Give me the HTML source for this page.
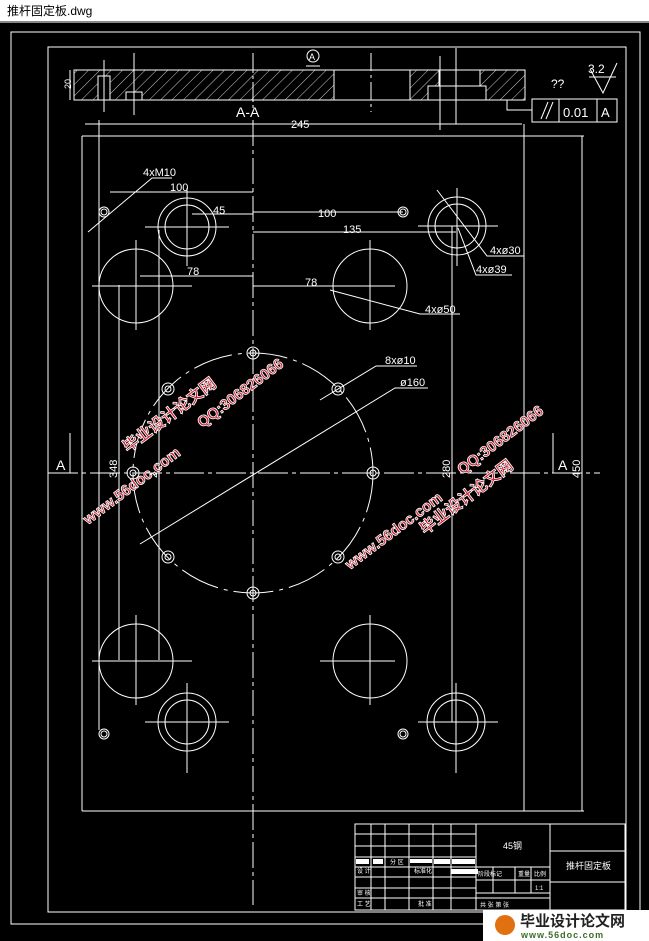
<!DOCTYPE html>
<html><head><meta charset="utf-8"><style>
html,body{margin:0;padding:0;background:#000;}
svg{display:block}
</style></head><body>
<svg width="649" height="941" viewBox="0 0 649 941" xmlns="http://www.w3.org/2000/svg" font-family="'Liberation Sans','Noto Sans CJK SC',sans-serif">
<defs>
<pattern id="h" width="8" height="8" patternUnits="userSpaceOnUse" patternTransform="rotate(45)">
<line x1="0" y1="0" x2="0" y2="8" stroke="#fff" stroke-width="0.8"/>
</pattern>
</defs>
<rect x="0" y="0" width="649" height="941" fill="#000"/>
<rect x="0" y="0" width="649" height="22" fill="#fff"/>
<rect x="0" y="21" width="649" height="2" fill="#888"/>
<text x="7" y="15" font-size="12" fill="#000">推杆固定板.dwg</text>

<g stroke="#fff" stroke-width="1" fill="none">
<!-- frames -->
<rect x="11" y="32" width="629" height="892"/>
<rect x="48" y="47" width="578" height="865"/>
<!-- section view -->
<rect x="74" y="70" width="260" height="30" fill="url(#h)"/>
<rect x="410" y="70" width="115" height="30" fill="url(#h)"/>
<rect x="439" y="70" width="41" height="16" fill="#000"/>
<rect x="428" y="86" width="58" height="14" fill="#000"/>
<line x1="74" y1="70" x2="525" y2="70"/>
<line x1="74" y1="100" x2="525" y2="100"/>
<rect x="98" y="76" width="12" height="24" fill="#000"/>
<rect x="126" y="92" width="16" height="8" fill="#000"/>
<line x1="104" y1="60" x2="104" y2="112"/>
<line x1="134" y1="53" x2="134" y2="115"/>
<line x1="253" y1="53" x2="253" y2="112" stroke-dasharray="20,3,3,3"/>
<line x1="371" y1="53" x2="371" y2="112" stroke-dasharray="18,4,3,4"/>
<line x1="440" y1="56" x2="440" y2="130"/>
<line x1="456" y1="48" x2="456" y2="124"/>
<line x1="70" y1="70" x2="70" y2="100"/>
<!-- tolerance box -->
<rect x="532" y="99" width="85" height="23"/>
<line x1="559" y1="99" x2="559" y2="122"/>
<line x1="597" y1="99" x2="597" y2="122"/>
<polyline points="532,110 507,110 507,100"/>
<line x1="541" y1="119" x2="548" y2="102"/><line x1="546" y1="119" x2="553" y2="102"/>
<polyline points="590,69 603,93 617,63"/>
<line x1="589" y1="77" x2="616" y2="77"/>
<circle cx="313" cy="56" r="6"/>
<line x1="306" y1="66" x2="320" y2="66"/>
<!-- 245 dim -->
<line x1="85" y1="124" x2="522" y2="124"/>
<!-- plate -->
<line x1="82" y1="136" x2="584" y2="136"/>
<line x1="82" y1="136" x2="82" y2="811"/>
<line x1="82" y1="811" x2="584" y2="811"/>
<line x1="524" y1="124" x2="524" y2="811"/>
<line x1="582" y1="136" x2="582" y2="811"/>
<line x1="99" y1="120" x2="99" y2="730"/>
<line x1="119" y1="285" x2="119" y2="660"/>
<line x1="159" y1="230" x2="159" y2="660"/>
<line x1="452" y1="226" x2="452" y2="722"/>
<!-- centerlines -->
<line x1="253" y1="120" x2="253" y2="905" stroke-dasharray="26,4,4,4"/>
<line x1="48" y1="473" x2="600" y2="473" stroke-dasharray="30,4,4,4"/>
<!-- section arrows -->
<line x1="70" y1="473" x2="70" y2="433"/><line x1="553" y1="473" x2="553" y2="433"/>
<!-- dims -->
<line x1="110" y1="192" x2="253" y2="192"/>
<line x1="192" y1="214" x2="253" y2="214"/>
<line x1="140" y1="276" x2="253" y2="276"/>
<line x1="253" y1="212" x2="403" y2="212"/>
<line x1="253" y1="232" x2="456" y2="232"/>
<line x1="253" y1="286" x2="370" y2="286"/>
<!-- large circles -->
<circle cx="136" cy="286" r="37"/><circle cx="370" cy="286" r="37"/>
<circle cx="136" cy="661" r="37"/><circle cx="370" cy="661" r="37"/>
<!-- counterbores -->
<circle cx="187" cy="227" r="29"/><circle cx="187" cy="227" r="22"/>
<circle cx="457" cy="226" r="29"/><circle cx="457" cy="226" r="22"/>
<circle cx="187" cy="722" r="29"/><circle cx="187" cy="722" r="22"/>
<circle cx="456" cy="722" r="29"/><circle cx="456" cy="722" r="22"/>
<!-- M10 -->
<circle cx="104" cy="212" r="5"/><circle cx="104" cy="212" r="3"/>
<circle cx="403" cy="212" r="5"/><circle cx="403" cy="212" r="3"/>
<circle cx="104" cy="734" r="5"/><circle cx="104" cy="734" r="3"/>
<circle cx="403" cy="734" r="5"/><circle cx="403" cy="734" r="3"/>
<!-- PCD -->
<circle cx="253" cy="473" r="120" stroke-dasharray="40,6,4,6"/>
<circle cx="253" cy="353" r="6"/><circle cx="253" cy="353" r="3"/>
<circle cx="253" cy="593" r="6"/><circle cx="253" cy="593" r="3"/>
<circle cx="133" cy="473" r="6"/><circle cx="133" cy="473" r="3"/>
<circle cx="373" cy="473" r="6"/><circle cx="373" cy="473" r="3"/>
<circle cx="168" cy="389" r="6"/><circle cx="168" cy="389" r="3"/>
<circle cx="338" cy="389" r="6"/><circle cx="338" cy="389" r="3"/>
<circle cx="168" cy="557" r="6"/><circle cx="168" cy="557" r="3"/>
<circle cx="338" cy="557" r="6"/><circle cx="338" cy="557" r="3"/>
<!-- leaders -->
<polyline points="88,232 152,178 172,178"/>
<polyline points="320,400 376,366 417,366"/>
<polyline points="140,544 395,388 428,388"/>
<polyline points="437,190 487,256 524,256"/>
<polyline points="458,228 476,275 512,275"/>
<polyline points="330,290 420,314 460,314"/>
<!-- crosshairs -->
<path d="M92 286h100M136 240v90M92 661h100M136 615v90M320 286h75M370 240v90M320 661h75M370 615v90M145 227h84M187 188v78M145 722h84M187 683v90M418 226h80M457 188v78M418 722h80M456 683v90"/>
</g>
<g fill="#fff" font-size="11">
<text x="236" y="117" font-size="14">A-A</text>
<text x="291" y="128">245</text>
<text x="309" y="60" font-size="9">A</text>
<text x="588" y="73" font-size="12">3.2</text>
<text x="551" y="88" font-size="12">??</text>
<text x="563" y="117" font-size="13">0.01</text>
<text x="601" y="117" font-size="13">A</text>
<text x="56" y="470" font-size="14">A</text>
<text x="558" y="470" font-size="14">A</text>
<text x="143" y="176">4xM10</text>
<text x="170" y="191">100</text>
<text x="213" y="214">45</text>
<text x="187" y="275">78</text>
<text x="318" y="217">100</text>
<text x="343" y="233">135</text>
<text x="305" y="286">78</text>
<text x="490" y="254">4xø30</text>
<text x="476" y="273">4xø39</text>
<text x="425" y="313">4xø50</text>
<text x="385" y="364">8xø10</text>
<text x="400" y="386">ø160</text>
<text transform="translate(117,478) rotate(-90)">348</text>
<text transform="translate(157,478) rotate(-90)">2</text>
<text transform="translate(450,478) rotate(-90)">280</text>
<text transform="translate(580,478) rotate(-90)">450</text>
<text x="71" y="89" font-size="9" transform="rotate(-90 71 89)">20</text>
</g>
<!-- watermark -->
<g font-weight="bold" fill="#c42030" stroke="#fff" stroke-width="0.8" font-size="16" font-family="'Liberation Sans','Noto Sans CJK SC',sans-serif">
<text transform="translate(128,453) rotate(-37)">毕业设计论文网</text>
<text transform="translate(88,525) rotate(-37)" font-size="15">www.56doc.com</text>
<text transform="translate(202,428) rotate(-37)" font-size="15">QQ:306826066</text>
<text transform="translate(350,570) rotate(-37)" font-size="15">www.56doc.com</text>
<text transform="translate(462,475) rotate(-37)" font-size="15">QQ:306826066</text>
<text transform="translate(425,535) rotate(-37)">毕业设计论文网</text>
</g>
<!-- title block -->
<g stroke="#fff" stroke-width="1" fill="none">
<rect x="355" y="824" width="270" height="86"/>
<line x1="476" y1="824" x2="476" y2="910"/>
<line x1="550" y1="824" x2="550" y2="910"/>
<line x1="550" y1="851" x2="625" y2="851"/>
<line x1="550" y1="882" x2="625" y2="882"/>
<path d="M355 834h121M355 846h121M355 857h121M355 867h195M355 877h121M355 888h121M355 898h195M476 880h74M476 893h74"/>
<path d="M371 824v43M385 824v43M409 824v43M433 824v43M451 824v43M371 867v43M385 867v43M409 867v43M433 867v43M451 867v43M493 867v26M515 867v26M531 867v26"/>
</g>
<g fill="#fff" font-size="6">
<rect x="356" y="859" width="13" height="5"/><rect x="373" y="859" width="10" height="5"/>
<rect x="410" y="859" width="22" height="4"/><rect x="434" y="859" width="16" height="5"/><rect x="452" y="859" width="23" height="5"/>
<rect x="451" y="869" width="27" height="5"/>
<text x="390" y="864">分 区</text>
<text x="357" y="873">设 计</text>
<text x="414" y="873">标准化</text>
<text x="357" y="895">审 核</text>
<text x="357" y="906">工 艺</text>
<text x="418" y="906">批 准</text>
<text x="478" y="876">阶段标记</text><text x="518" y="876">重量</text><text x="534" y="876">比例</text>
<text x="535" y="890">1:1</text>
<text x="480" y="907">共  张   第  张</text>
<text x="503" y="849" font-size="9">45钢</text>
<text x="566" y="869" font-size="9">推杆固定板</text>
</g>
<!-- logo -->
<rect x="483" y="910" width="166" height="31" fill="#fff"/>
<circle cx="505" cy="925" r="10" fill="#e07010"/>
<text x="520" y="926" font-size="15" font-weight="bold" fill="#222" font-family="'Liberation Sans','Noto Sans CJK SC',sans-serif">毕业设计论文网</text>
<text x="521" y="938" font-size="9" font-weight="bold" fill="#3a6e2a" letter-spacing="1">www.56doc.com</text>
</svg>
</body></html>
